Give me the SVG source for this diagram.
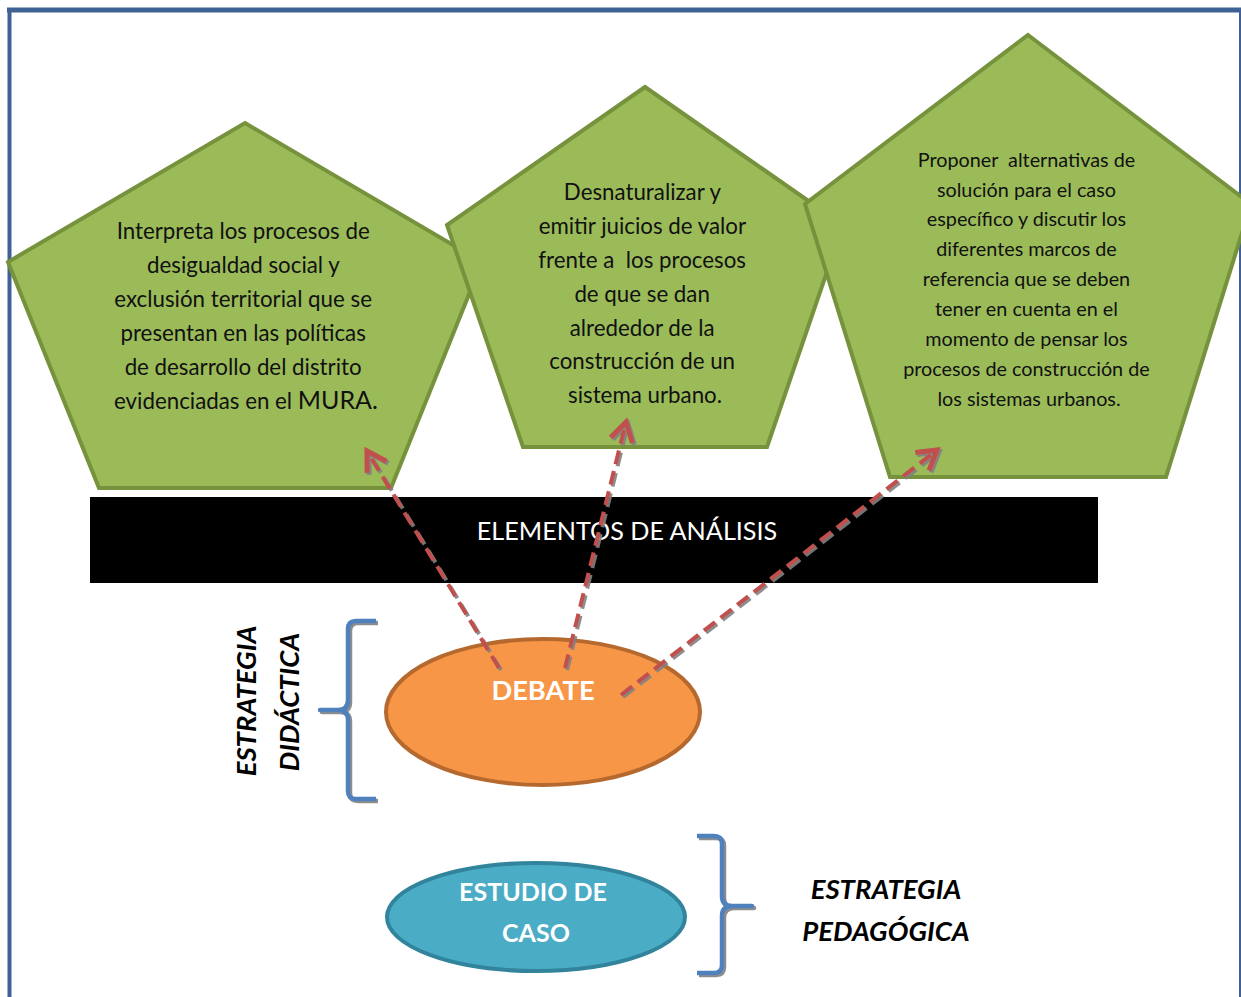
<svg xmlns="http://www.w3.org/2000/svg" width="1241" height="997" viewBox="0 0 1241 997">
  <style>
    .pent { fill: #9bbb59; stroke: #76923c; stroke-width: 4; stroke-linejoin: miter; }
    .ptxt { font-family: Lato, "Liberation Sans", sans-serif; fill: #111; text-anchor: middle; }
    .btxt { font-family: Lato, "Liberation Sans", sans-serif; fill: #ffffff; font-weight: bold; text-anchor: middle; }
    .lbl { font-family: Lato, "Liberation Sans", sans-serif; fill: #000; font-weight: bold; font-style: italic; font-size: 27.5px; text-anchor: middle; }
    .brace { fill: none; stroke: #4f81bd; stroke-width: 4.5; stroke-linejoin: round; stroke-linecap: butt; }
    .link { fill: none; stroke: #c0504d; stroke-width: 4; stroke-dasharray: 14 7; marker-end: url(#head); }
  </style>
  <defs>
    <marker id="head" markerUnits="userSpaceOnUse" markerWidth="30" markerHeight="30" refX="20" refY="12" orient="auto" viewBox="0 0 24 24">
      <path d="M5 3 L20 12 L5 21" fill="none" stroke="#c0504d" stroke-width="4" stroke-linejoin="miter"/>
    </marker>
    <filter id="shadow" x="-10%" y="-10%" width="130%" height="130%">
      <feDropShadow dx="2" dy="2" stdDeviation="0.6" flood-color="#808080" flood-opacity="0.9"/>
    </filter>
  </defs>

  <rect width="1241" height="997" fill="#ffffff"/>

  <!-- page frame -->
  <g id="frame" fill="none" stroke="#3f6296">
    <line x1="7" y1="10" x2="1241" y2="10" stroke-width="5"/>
    <line x1="9.5" y1="8" x2="9.5" y2="997" stroke-width="4"/>
    <line x1="1240" y1="8" x2="1240" y2="997" stroke-width="2"/>
  </g>

  <!-- objectives -->
  <g id="obj1">
    <polygon class="pent" points="245,123 482,262 391,488 99,488 8,262"/>
    <text class="ptxt" font-size="22.3">
      <tspan x="246" y="239">Interpreta los procesos de</tspan>
      <tspan x="246" y="273">desigualdad social y</tspan>
      <tspan x="246" y="307">exclusión territorial que se</tspan>
      <tspan x="246" y="341">presentan en las políticas</tspan>
      <tspan x="246" y="375">de desarrollo del distrito</tspan>
      <tspan x="246" y="409">evidenciadas en el <tspan font-size="25">MURA.</tspan></tspan>
    </text>
  </g>

  <g id="obj2">
    <polygon class="pent" points="645,87 843,225 767,447 523,447 447,225"/>
    <text class="ptxt" font-size="22.3">
      <tspan x="645" y="200">Desnaturalizar y</tspan>
      <tspan x="645" y="234">emitir juicios de valor</tspan>
      <tspan x="645" y="268" xml:space="preserve">frente a  los procesos</tspan>
      <tspan x="645" y="302">de que se dan</tspan>
      <tspan x="645" y="336">alrededor de la</tspan>
      <tspan x="645" y="369">construcción de un</tspan>
      <tspan x="645" y="403">sistema urbano.</tspan>
    </text>
  </g>

  <g id="obj3">
    <polygon class="pent" points="1028,35 1251,204 1166,477 890,477 805,204"/>
    <text class="ptxt" font-size="19.8">
      <tspan x="1029" y="167" xml:space="preserve">Proponer  alternativas de</tspan>
      <tspan x="1029" y="197">solución para el caso</tspan>
      <tspan x="1029" y="226">específico y discutir los</tspan>
      <tspan x="1029" y="256">diferentes marcos de</tspan>
      <tspan x="1029" y="286">referencia que se deben</tspan>
      <tspan x="1029" y="316">tener en cuenta en el</tspan>
      <tspan x="1029" y="346">momento de pensar los</tspan>
      <tspan x="1029" y="376">procesos de construcción de</tspan>
      <tspan x="1029" y="406">los sistemas urbanos.</tspan>
    </text>
  </g>

  <!-- analysis band -->
  <g id="elementos">
    <rect x="90" y="497" width="1008" height="86" fill="#000000"/>
    <text x="627" y="540" font-family="Lato, 'Liberation Sans', sans-serif" font-size="25.2" fill="#ffffff" text-anchor="middle">ELEMENTOS DE ANÁLISIS</text>
  </g>

  <!-- didactic strategy -->
  <g id="debate">
    <ellipse cx="543" cy="712" rx="157" ry="73" fill="#f79646" stroke="#b5692e" stroke-width="4"/>
    <text class="btxt" x="543" y="700" font-size="27.3">DEBATE</text>
  </g>

  <g id="brace-didactica" filter="url(#shadow)">
    <path class="brace" d="M376 621 L356 621 Q348 621 348 629 L348 700 Q348 710 338 710 L320 710 L338 710 Q348 710 348 720 L348 791 Q348 799 356 799 L376 799"/>
  </g>

  <g id="label-didactica">
    <text class="lbl" transform="translate(256 701) rotate(-90)">ESTRATEGIA</text>
    <text class="lbl" transform="translate(299 702) rotate(-90)">DIDÁCTICA</text>
  </g>

  <!-- pedagogical strategy -->
  <g id="estudio">
    <ellipse cx="536" cy="917" rx="149" ry="54" fill="#4bacc6" stroke="#31849b" stroke-width="4"/>
    <text class="btxt" font-size="25">
      <tspan x="536" y="901">ESTUDIO DE</tspan>
      <tspan x="536" y="942">CASO</tspan>
    </text>
  </g>

  <g id="brace-pedagogica" filter="url(#shadow)">
    <path class="brace" d="M697 836 L714 836 Q722 836 722 844 L722 896 Q722 906 732 906 L752 906 L732 906 Q722 906 722 916 L722 965 Q722 973 714 973 L697 973"/>
  </g>

  <g id="label-pedagogica">
    <text class="lbl" x="886" y="899">ESTRATEGIA</text>
    <text class="lbl" x="886" y="941">PEDAGÓGICA</text>
  </g>

  <!-- connectors: debate to each objective -->
  <g id="connectors" filter="url(#shadow)">
    <line class="link" x1="499" y1="668" x2="367" y2="451"/>
    <line class="link" x1="565" y1="668" x2="626" y2="422"/>
    <line class="link" x1="621" y1="695" x2="937" y2="450"/>
  </g>
</svg>
